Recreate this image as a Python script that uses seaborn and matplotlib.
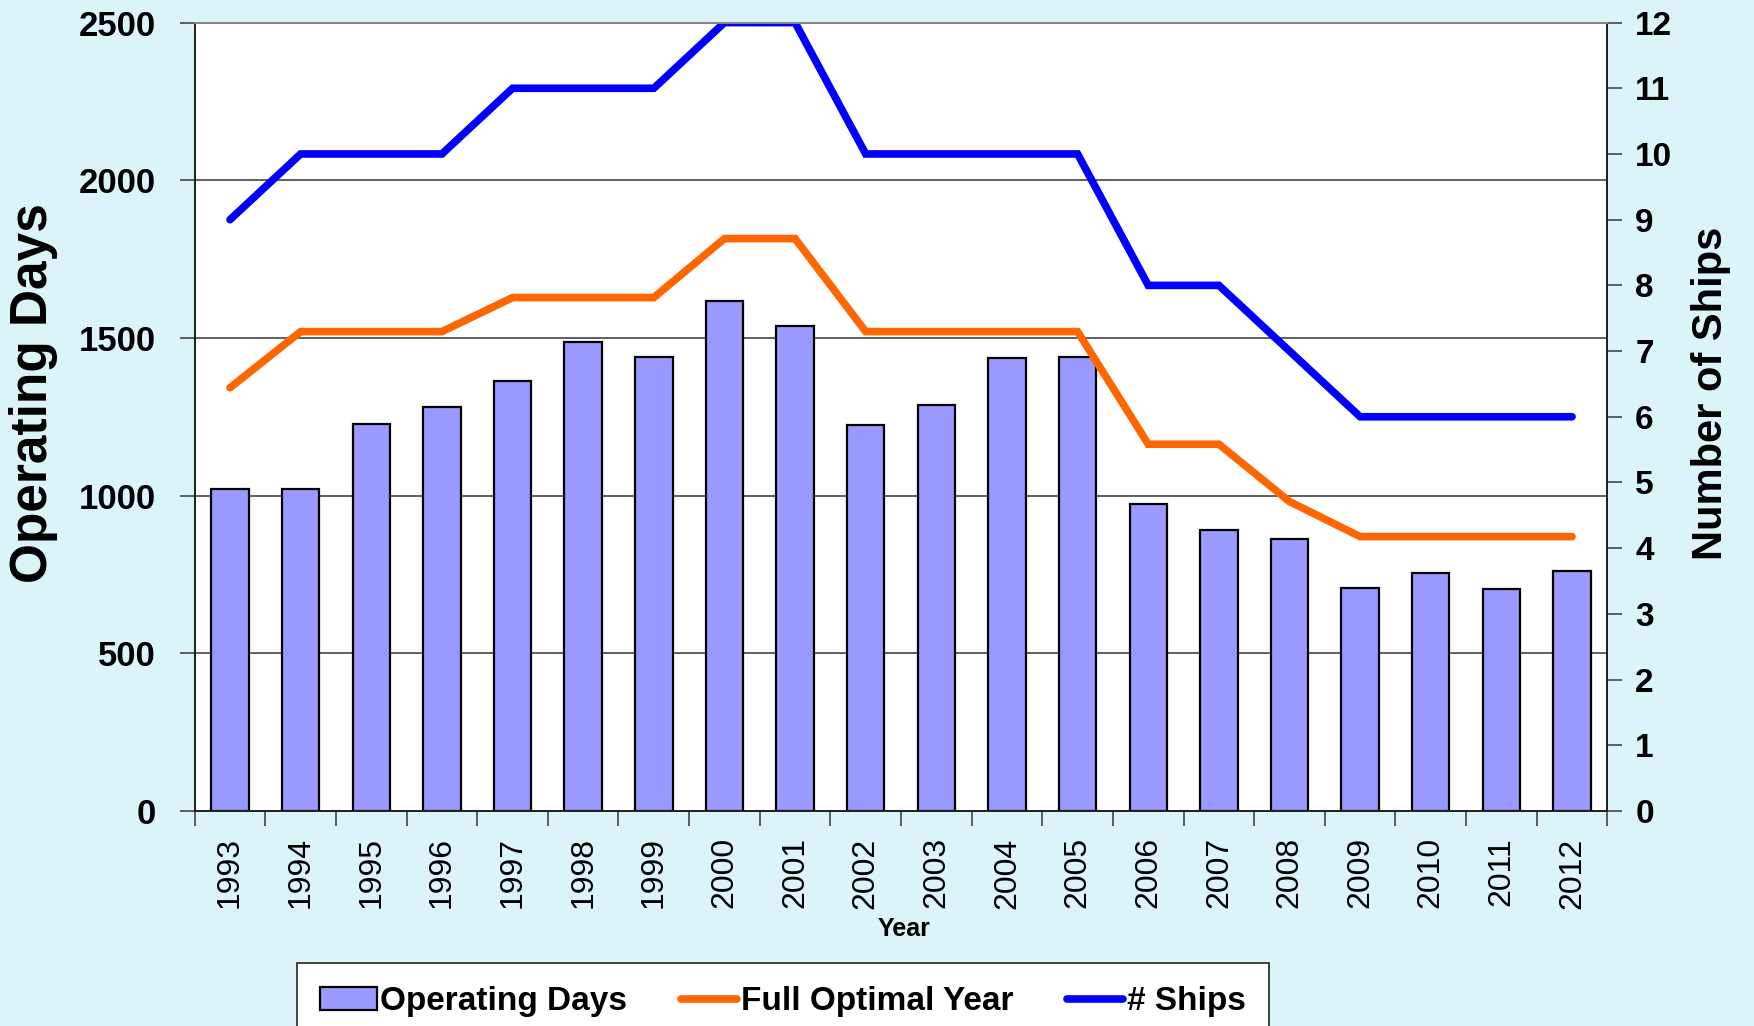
import numpy as np
import pandas as pd
import matplotlib
matplotlib.use("Agg")
import matplotlib.pyplot as plt
import seaborn as sns
from matplotlib.patches import Patch
from matplotlib.lines import Line2D

# data
years = [str(y) for y in range(1993, 2013)]
operating_days = [1021, 1021, 1227, 1280, 1362, 1486, 1440, 1617, 1539, 1223,
                  1287, 1436, 1440, 974, 890, 863, 707, 756, 705, 762]
full_optimal_year = [1342, 1520, 1520, 1520, 1628, 1628, 1628, 1815, 1815, 1520,
                     1520, 1520, 1520, 1163, 1163, 981, 870, 870, 870, 870]
num_ships = [9, 10, 10, 10, 11, 11, 11, 12, 12, 10,
             10, 10, 10, 8, 8, 7, 6, 6, 6, 6]

df = pd.DataFrame({"Year": years, "Operating Days": operating_days,
                   "Full Optimal Year": full_optimal_year, "Ships": num_ships})
df["pos"] = np.arange(len(df))

BG = "#DBF4F8"
BAR = "#9999FF"
ORANGE = "#FF6600"
BLUE = "#0000FF"

sns.set_style("white")
plt.rcParams["font.family"] = ["Liberation Sans", "DejaVu Sans"]
plt.rcParams["text.color"] = "black"
plt.rcParams["axes.labelcolor"] = "black"
plt.rcParams["xtick.color"] = "black"
plt.rcParams["ytick.color"] = "black"

fig = plt.figure(figsize=(17.54, 10.26), dpi=100, facecolor=BG)
ax = fig.add_axes([0.111, 0.2096, 0.8054, 0.7684])
ax.set_facecolor("white")

sns.barplot(data=df, x="Year", y="Operating Days", color=BAR, saturation=1,
            width=0.53, edgecolor="black", linewidth=1.6, ax=ax, zorder=2)
sns.lineplot(data=df, x="pos", y="Full Optimal Year", color=ORANGE, lw=5.5,
             ax=ax, zorder=3, solid_capstyle="round", solid_joinstyle="miter")

ax.set_xlim(-0.5, len(years) - 0.5)
ax.set_ylim(0, 2500)
ax.set_yticks(range(0, 2501, 500))
ax.set_axisbelow(True)
ax.yaxis.grid(True, color="#444444", lw=1.2)
ax.xaxis.grid(False)

ax2 = ax.twinx()
sns.lineplot(data=df, x="pos", y="Ships", color=BLUE, lw=5.5, ax=ax2,
             solid_capstyle="round", solid_joinstyle="miter")
ax2.set_ylim(0, 12)
ax2.set_yticks(range(0, 13))
ax2.grid(False)
ax2.set_xlim(-0.5, len(years) - 0.5)

# x ticks: labels at categories, tick marks between categories
ax.set_xticks(range(len(years)))
ax.set_xticklabels(years, rotation=90, fontsize=23)
ax.set_xticks(np.arange(-0.5, len(years), 1.0), minor=True)
ax.tick_params(axis="x", which="major", length=0, pad=19, labelcolor="black")
ax.tick_params(axis="x", which="minor", length=11, width=1.2, color="#444444",
               direction="out", bottom=True)
ax.tick_params(axis="y", which="major", length=11, width=1.2, color="#444444",
               direction="out", left=True, pad=17, labelsize=25,
               labelcolor="black")
ax2.tick_params(axis="y", which="major", length=11, width=1.2, color="#444444",
                direction="out", right=True, pad=9, labelsize=24,
                labelcolor="black")
for lab in ax.get_yticklabels() + ax2.get_yticklabels():
    lab.set_fontweight("bold")

ax.set_xlabel("Year", fontsize=18, fontweight="bold", color="black")
ax.xaxis.set_label_coords(0.502, -0.150)
ax.xaxis.label.set_va("center")
ax.set_ylabel("Operating Days", fontsize=37, fontweight="bold", color="black")
ax.yaxis.set_label_coords(-0.114, 0.53)
ax.yaxis.label.set_va("center")
ax2.set_ylabel("Number of Ships", fontsize=30, fontweight="bold",
               color="black")
ax2.yaxis.set_label_coords(1.0733, 0.53)
ax2.yaxis.label.set_va("center")

for a in (ax, ax2):
    for side in ("left", "right", "bottom"):
        a.spines[side].set_color("#222222")
        a.spines[side].set_linewidth(1.4)
    a.spines["top"].set_color("#888888")
    a.spines["top"].set_linewidth(1.4)

handles = [Patch(facecolor=BAR, edgecolor="black", linewidth=1.6),
           Line2D([], [], color=ORANGE, lw=5.5, solid_capstyle="round"),
           Line2D([], [], color=BLUE, lw=5.5, solid_capstyle="round")]
labels = ["Operating Days", "Full Optimal Year", "# Ships"]
leg = fig.legend(handles, labels, loc="upper center",
                 bbox_to_anchor=(0.4464, 0.0614), ncol=3, frameon=True,
                 fancybox=False, edgecolor="#222222", facecolor="white",
                 framealpha=1, prop={"weight": "bold", "size": 24},
                 handlelength=1.7, handletextpad=0.1, columnspacing=1.6,
                 borderpad=0.7, borderaxespad=0, labelcolor="black")
leg.get_frame().set_linewidth(1.2)

fig.savefig("out.png", dpi=100, facecolor=BG)
